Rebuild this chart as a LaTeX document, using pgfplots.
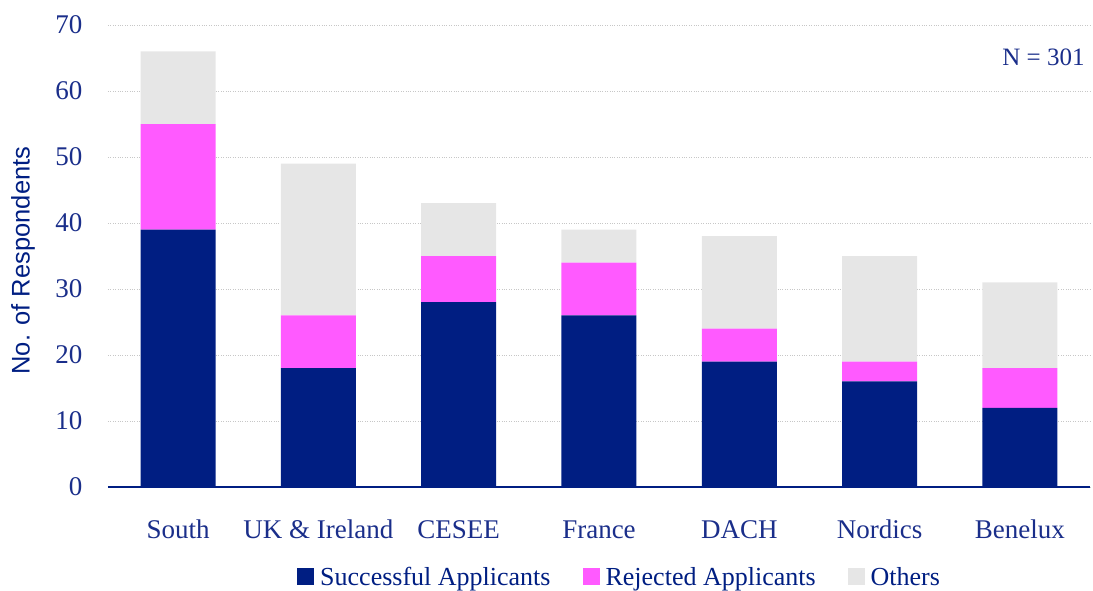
\documentclass[border=0pt]{standalone}
\usepackage{pgfplots}
\pgfplotsset{compat=1.18}
\usepackage{fontspec}
\setmainfont{Liberation Serif}
\newfontfamily\labfont{Liberation Sans}
\definecolor{navy}{RGB}{0,30,130}
\definecolor{txt}{RGB}{26,46,138}
\definecolor{pinkc}{RGB}{255,90,255}
\definecolor{greyc}{RGB}{230,230,230}
\begin{document}
\begin{tikzpicture}
\begin{axis}[
  at={(0,0)}, anchor=south west,
  scale only axis, width=982pt, height=462pt,
  ybar stacked, bar width=75pt,
  xmin=-0.5, xmax=6.5, ymin=0, ymax=70,
  enlargelimits=false,
  /pgf/number format/assume math mode=true,
  xtick={0,1,2,3,4,5,6},
  xticklabels={South, UK \& Ireland, CESEE, France, DACH, Nordics, Benelux},
  ytick={0,10,...,70},
  ymajorgrids, grid style={dotted, black!22, line width=0.6pt},
  axis x line=bottom, axis y line=left,
  x axis line style={navy, line width=1.6pt, -},
  y axis line style={draw=none},
  major tick length=0pt, tick style={draw=none},
  ticklabel style={font=\fontsize{27}{27}\selectfont, text=txt},
  xticklabel style={anchor=base, yshift=-51pt},
  yticklabel style={xshift=-22pt},
  ylabel={No. of Respondents},
  ylabel style={at={(axis description cs:-0.0865,0.49)}, anchor=center,
    font=\labfont\fontsize{25.5}{25.5}\selectfont, text=navy},
  legend columns=3,
  legend style={draw=none, fill=none, at={(0.521,-0.195)}, anchor=center,
    font=\fontsize{26}{26}\selectfont, text=navy,
    /tikz/every odd column/.append style={column sep=4pt},
    /tikz/every even column/.append style={column sep=30pt}},
  legend cell align=left,
]
\addplot[fill=navy, draw=none, legend image code/.code={\fill[navy] (0pt,-8pt) rectangle (17pt,9pt);}]
  coordinates {(0,39) (1,18) (2,28) (3,26) (4,19) (5,16) (6,12)};
\addplot[fill=pinkc, draw=none, legend image code/.code={\fill[pinkc] (0pt,-8pt) rectangle (17pt,9pt);}]
  coordinates {(0,16) (1,8) (2,7) (3,8) (4,5) (5,3) (6,6)};
\addplot[fill=greyc, draw=none, legend image code/.code={\fill[greyc] (0pt,-8pt) rectangle (17pt,9pt);}]
  coordinates {(0,11) (1,23) (2,8) (3,5) (4,14) (5,16) (6,13)};
\legend{Successful Applicants, Rejected Applicants, Others}
\node[anchor=east, font=\fontsize{25}{25}\selectfont, text=txt] at (rel axis cs:0.998,0.93) {N = 301};
\end{axis}
\path[use as bounding box] (-108pt,-103pt) rectangle (985pt,487pt);
\end{tikzpicture}
\end{document}
